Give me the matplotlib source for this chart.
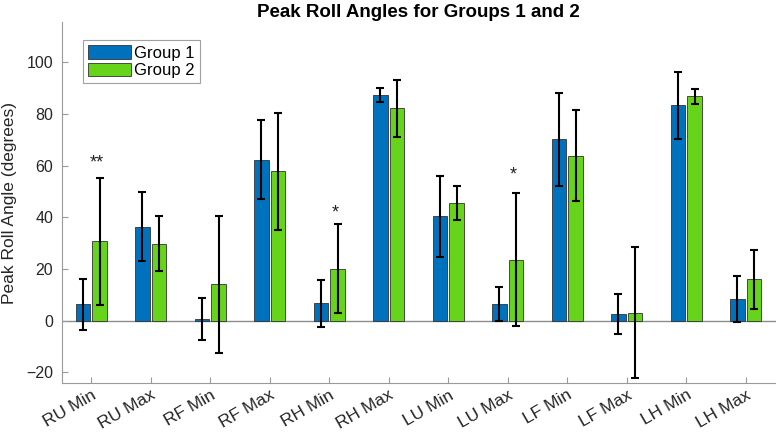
import numpy as np
import matplotlib
matplotlib.use("Agg")
import matplotlib.pyplot as plt
from matplotlib.transforms import ScaledTranslation

labels = ["RU Min", "RU Max", "RF Min", "RF Max", "RH Min", "RH Max",
          "LU Min", "LU Max", "LF Min", "LF Max", "LH Min", "LH Max"]
g1_mean = [6.3, 36.3, 0.8, 62.3, 6.7, 87.3, 40.3, 6.5, 70.1, 2.6, 83.3, 8.4]
g1_err = [9.9, 13.4, 8.1, 15.4, 9.2, 2.6, 15.6, 6.6, 18.0, 7.9, 12.9, 9.0]
g2_mean = [30.7, 29.8, 14.0, 57.7, 20.1, 82.1, 45.4, 23.6, 63.8, 3.1, 86.7, 16.0]
g2_err = [24.6, 10.7, 26.6, 22.8, 17.2, 11.1, 6.6, 25.6, 17.5, 25.3, 2.9, 11.3]

# significance markers
sig_idx = [0, 4, 7]
sig_text = ["**", "*", "*"]
sig_y = [61.0, 41.5, 56.3]

plt.rcParams["font.family"] = ["Liberation Sans", "DejaVu Sans"]

fig = plt.figure(figsize=(7.76, 4.36), dpi=100)
ax = fig.add_axes([61.5 / 776, (436 - 382.7) / 436, 714 / 776, 360.4 / 436])

x = np.arange(1, len(labels) + 1)
w = 0.242
off = 0.14
blue = "#0072BD"
green = "#66D41A"
edge = "#333333"

ax.axhline(0, color="#8c8c8c", lw=1.0, zorder=1)
ax.bar(x - off, g1_mean, w, color=blue, edgecolor=edge, lw=0.6, label="Group 1", zorder=2)
ax.bar(x + off, g2_mean, w, color=green, edgecolor=edge, lw=0.6, label="Group 2", zorder=2)
ax.errorbar(x - off, g1_mean, yerr=g1_err, fmt="none", ecolor="black",
            elinewidth=1.5, capsize=3, capthick=1.5, zorder=3)
ax.errorbar(x + off, g2_mean, yerr=g2_err, fmt="none", ecolor="black",
            elinewidth=1.5, capsize=3, capthick=1.5, zorder=3)

for i, t, yv in zip(sig_idx, sig_text, sig_y):
    ax.text(x[i] + off - 0.04, yv, t, ha="center", va="center", fontsize=13, color="#222222")

ax.set_xlim(0.5, 12.5)
ax.set_ylim(-24, 115.4)
ax.set_yticks([-20, 0, 20, 40, 60, 80, 100])
ax.set_xticks(x)
ax.set_xticklabels(labels, rotation=30, ha="right", rotation_mode="anchor", fontsize=12.5)
for lbl in ax.get_xticklabels():
    lbl.set_transform(lbl.get_transform() + ScaledTranslation(6 / 100, -9 / 100, fig.dpi_scale_trans))

for s in ["top", "right"]:
    ax.spines[s].set_visible(False)
for s in ["left", "bottom"]:
    ax.spines[s].set_color("#9a9a9a")
    ax.spines[s].set_linewidth(0.8)
ax.tick_params(direction="in", length=4, width=0.8, color="#9a9a9a", labelcolor="#262626")
ax.tick_params(axis="y", labelsize=11.5, pad=6)

ax.set_ylabel("Peak Roll Angle (degrees)", fontsize=12.5, color="#262626")
ax.yaxis.set_label_coords(-0.062, 0.5)
ax.set_title("Peak Roll Angles for Groups 1 and 2", fontsize=13.5, fontweight="bold", pad=4)

leg = ax.legend(loc="upper left", bbox_to_anchor=(0.0297, 0.95), borderaxespad=0,
                fontsize=12, fancybox=False, framealpha=1, edgecolor="#a0a0a0",
                handlelength=2.6, handleheight=0.9, handletextpad=0.2,
                borderpad=0.3, labelspacing=0.1)
leg.get_frame().set_linewidth(0.8)

fig.savefig("out.png", dpi=100)
